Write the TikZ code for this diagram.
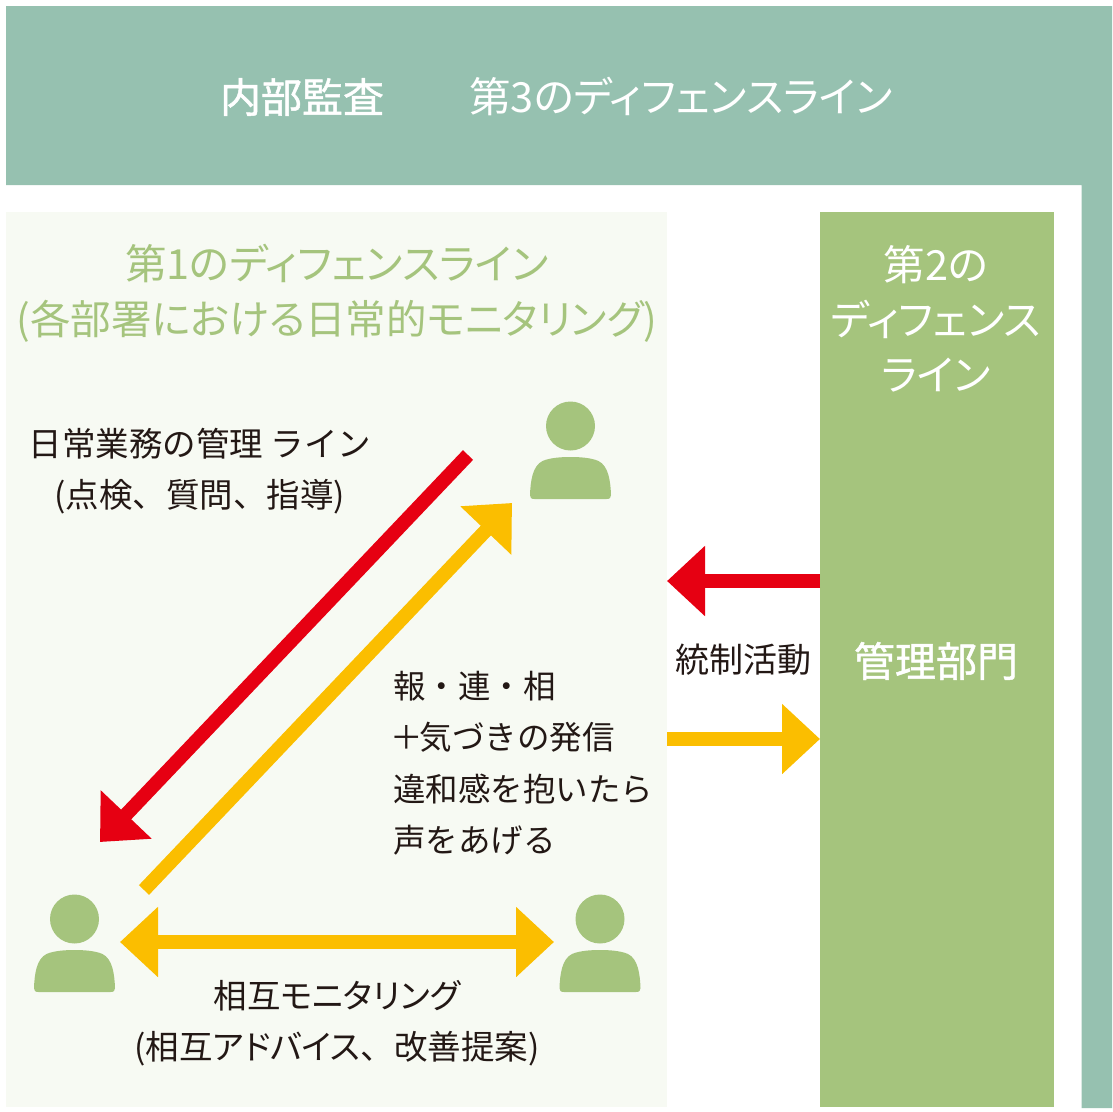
\documentclass[tikz,border=0pt]{standalone}
\usepackage{fontspec}
\usetikzlibrary{arrows.meta}
\newfontfamily\jpfont[RawFeature=+palt]{Noto Sans CJK JP}
\newfontfamily\jpplain{Noto Sans CJK JP}
\newfontfamily\jpmedium[RawFeature=+palt, FakeBold=1.2]{Noto Sans CJK JP}
\definecolor{tealband}{HTML}{96C1B0}
\definecolor{leafgreen}{HTML}{A5C47D}
\definecolor{palepanel}{HTML}{F7FAF3}
\definecolor{alertred}{HTML}{E60012}
\definecolor{signalyellow}{HTML}{FBBE00}
\definecolor{inktext}{HTML}{231815}
\tikzset{
        redarrow/.style={draw=alertred, line width=14pt, -{Triangle[length=38pt, width=68pt]}},
        yellowarrow/.style={draw=signalyellow, line width=14pt, -{Triangle[length=38pt, width=68pt]}},
        bothways/.style={draw=signalyellow, line width=14pt, {Triangle[length=38pt, width=68pt]}-{Triangle[length=38pt, width=68pt]}},
        bodytext/.style={text=inktext, inner sep=0pt, font=\jpplain\fontsize{33.5}{51.5}\selectfont},
        whitetext/.style={text=white, inner sep=0pt, align=center, font=\jpfont\fontsize{41.5}{55}\selectfont},
        greentext/.style={text=leafgreen, inner sep=0pt, align=center, font=\jpfont\fontsize{41.5}{55}\selectfont},
        boldtext/.style={text=white, inner sep=0pt, font=\jpmedium\fontsize{41}{55}\selectfont},
        person/.pic={
          \fill[leafgreen] (0,0) ellipse [x radius=24.5, y radius=24.5];
          \fill[leafgreen] (-36,73) -- (36,73) .. controls (39.5,73) and (40.5,71.5) .. (40.5,69)
            .. controls (40,55) and (38,40) .. (28,35) .. controls (20,31.5) and (8,31) .. (0,31)
            .. controls (-8,31) and (-20,31.5) .. (-28,35) .. controls (-38,40) and (-40,55) .. (-40.5,69)
            .. controls (-40.5,71.5) and (-39.5,73) .. (-36,73) -- cycle;
        }
}
\begin{document}
\begin{tikzpicture}[x=1pt, y=-1pt]
        \useasboundingbox (0,0) rectangle (1112,1112);
        % bands and panels
        \fill[tealband] (6,6) -- (1112,6) -- (1112,1108) -- (1081.5,1108) -- (1081.5,185) -- (6,185) -- cycle;
        \fill[palepanel] (6,212) rectangle (667,1107);
        \fill[leafgreen] (820,212) rectangle (1054,1107);
        % titles
        \node[boldtext] (audit) at (302,97) {内部監査};
        \node[whitetext] (third) at (681,96) {第3のディフェンスライン};
        \node[greentext] (first) at (337,293.5) {第1のディフェンスライン\\{\fontsize{40.5}{55}\selectfont (各部署における日常的モニタリング)}};
        \node[whitetext] (second) at (936,319) {第2の\\ディフェンス\\ライン};
        \node[boldtext] (dept) at (936,661) {管理部門};
        % people
        \pic (boss) at (570.5,426) {person};
        \pic (staffa) at (74.5,919) {person};
        \pic (staffb) at (600,919) {person};
        % labels
        \node[bodytext, align=center] (daily) at (200,471) {日常業務の管理 ライン\\(点検、質問、指導)};
        \node[bodytext, align=left, anchor=north west, font=\jpplain\fontsize{32.5}{51.5}\selectfont] (report) at (393,670.5) {報・連・相\\\hspace*{-3pt}＋\hspace{-3pt}気づきの発信\\違和感を抱いたら\\声をあげる};
        \node[bodytext, font=\jpplain\fontsize{34}{51.5}\selectfont] (control) at (743,660) {統制活動};
        \node[bodytext, align=center] (mutual) at (337,1023) {{\jpfont 相互モニタリング}\\(相互{\jpfont アドバイス}、改善提案)};
        % arrow ends
        \coordinate (redtop) at (468,455);
        \coordinate (redbottom) at (100,842);
        \coordinate (yellowbottom) at (144,890);
        \coordinate (yellowtop) at (512,503);
        \coordinate (mutualleft) at (120,942);
        \coordinate (mutualright) at (554,942);
        \coordinate (ctrlright) at (820,581);
        \coordinate (ctrlleft) at (667,581);
        \coordinate (riseleft) at (667,739);
        \coordinate (riseright) at (820,739);
        \draw[redarrow] (redtop) -- (redbottom);
        \draw[yellowarrow] (yellowbottom) -- (yellowtop);
        \draw[bothways] (mutualleft) -- (mutualright);
        \draw[redarrow] (ctrlright) -- (ctrlleft);
        \draw[yellowarrow] (riseleft) -- (riseright);
\end{tikzpicture}
\end{document}
